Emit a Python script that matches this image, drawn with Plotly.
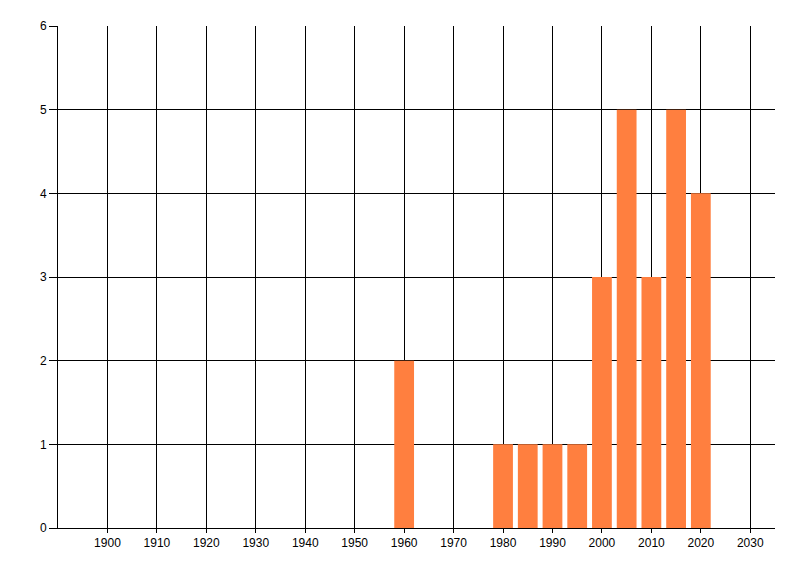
import plotly.graph_objects as go

years = [1960, 1980, 1985, 1990, 1995, 2000, 2005, 2010, 2015, 2020]
counts = [2, 1, 1, 1, 1, 3, 5, 3, 5, 4]
x_ticks = list(range(1900, 2031, 10))
y_ticks = list(range(0, 7))

fig = go.Figure(go.Bar(
    x=years, y=counts, width=4,
    marker=dict(color="#FF7F3F", line=dict(width=0)),
))

font = dict(family="Liberation Sans, Arial, sans-serif", size=12, color="#000000")

# page has an 8px default body margin, so offsets are compensated
fig.update_layout(
    width=800, height=576,
    margin=dict(l=49.5, r=32.5, t=18, b=56, pad=0),
    paper_bgcolor="white", plot_bgcolor="white",
    showlegend=False,
    font=font,
    xaxis=dict(
        range=[1890, 2035], tickvals=x_ticks, ticktext=[str(v) for v in x_ticks],
        showgrid=True, gridcolor="black", gridwidth=1,
        showline=True, linecolor="black", linewidth=1,
        ticks="outside", ticklen=4, tickcolor="black", tickwidth=1,
        zeroline=False, tickfont=font,
    ),
    yaxis=dict(
        range=[0, 6], tickvals=y_ticks,
        showgrid=True, gridcolor="black", gridwidth=1,
        showline=True, linecolor="black", linewidth=1,
        ticks="outside", ticklen=8, tickcolor="black", tickwidth=1,
        zeroline=False, tickfont=font,
    ),
)

fig.write_html("out.html")
